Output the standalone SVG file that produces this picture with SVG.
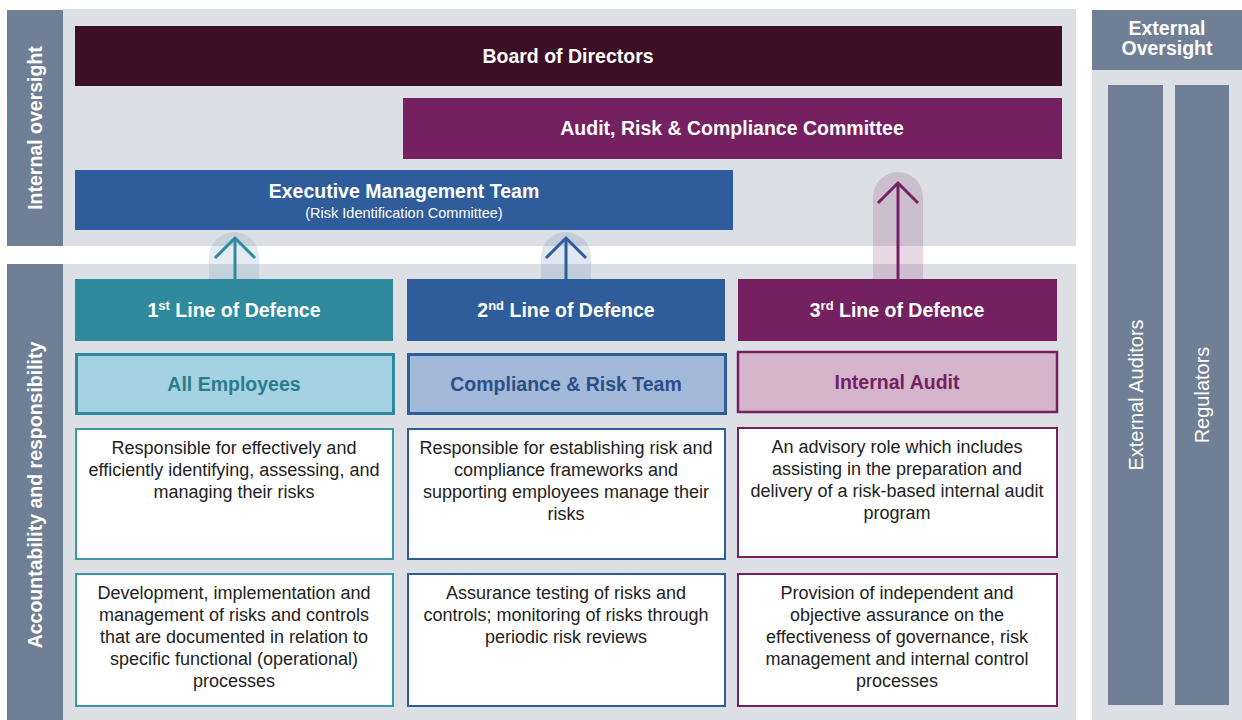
<svg xmlns="http://www.w3.org/2000/svg" width="1242" height="720" viewBox="0 0 1242 720">
  <defs>
    <style>
      .panel { fill: #dce0e5; }
      .slate { fill: #6f7f95; }
      .t { font-family: "Liberation Sans", Arial, sans-serif; }
      .hw { font-weight: bold; font-size: 19.5px; fill: #ffffff; text-anchor: middle; }
      .side { font-weight: bold; font-size: 19.5px; fill: #ffffff; text-anchor: middle; }
      .ext { font-size: 20px; fill: #ffffff; text-anchor: middle; }
      .body { font-size: 18px; fill: #222222; text-anchor: middle; }
      .sub { font-size: 14.5px; fill: #ffffff; text-anchor: middle; }
      .role { font-weight: bold; font-size: 19.5px; text-anchor: middle; }
      .sup { font-size: 13px; }
      .arrow { fill: none; stroke-width: 3; stroke-linecap: butt; stroke-linejoin: miter; }
    </style>
  </defs>

  <rect width="1242" height="720" fill="#ffffff"/>

  <!-- background panels -->
  <g id="panels">
    <rect class="panel" x="63" y="9" width="1013" height="237"/>
    <rect class="panel" x="63" y="264" width="1013" height="456"/>
    <rect class="panel" x="1092" y="10" width="150" height="710"/>
  </g>

  <!-- side labels -->
  <g id="internal-oversight">
    <rect class="slate" x="7" y="10" width="56" height="236"/>
    <text class="t side" transform="translate(42,128) rotate(-90)">Internal oversight</text>
  </g>
  <g id="accountability">
    <rect class="slate" x="7" y="264" width="56" height="456"/>
    <text class="t side" transform="translate(42,495) rotate(-90)">Accountability and responsibility</text>
  </g>

  <!-- governance bodies -->
  <g id="board">
    <rect x="75" y="26" width="987" height="60" fill="#3d0f27"/>
    <text class="t hw" x="568" y="63">Board of Directors</text>
  </g>
  <g id="arc">
    <rect x="403" y="98" width="659" height="61" fill="#742061"/>
    <text class="t hw" x="732" y="135">Audit, Risk &amp; Compliance Committee</text>
  </g>
  <g id="emt">
    <rect x="75" y="170" width="658" height="60" fill="#2f5d9b"/>
    <text class="t hw" x="404" y="198">Executive Management Team</text>
    <text class="t sub" x="404" y="218">(Risk Identification Committee)</text>
  </g>

  <!-- reporting arrows -->
  <g id="connectors">
    <rect x="209" y="232" width="50" height="72" rx="25" ry="25" fill="#2f6e9b" fill-opacity="0.13"/>
    <line class="arrow" x1="235" y1="279" x2="235" y2="238" stroke="#2f8a9e"/>
    <polyline class="arrow" points="215,258 235,238 255,258" stroke="#2f8a9e"/>

    <rect x="541" y="232" width="50" height="72" rx="25" ry="25" fill="#2f5d9b" fill-opacity="0.15"/>
    <line class="arrow" x1="566" y1="279" x2="566" y2="238" stroke="#2f5d9b"/>
    <polyline class="arrow" points="546,258 566,238 586,258" stroke="#2f5d9b"/>

    <rect x="873" y="172" width="50" height="132" rx="25" ry="25" fill="#742061" fill-opacity="0.17"/>
    <line class="arrow" x1="898" y1="279" x2="898" y2="183" stroke="#742061"/>
    <polyline class="arrow" points="878,203 898,183 918,203" stroke="#742061"/>
  </g>

  <!-- first line of defence -->
  <g id="line1">
    <rect x="75" y="279" width="318" height="62" fill="#2f8a9e"/>
    <text class="t hw" x="234" y="317">1<tspan class="sup" dy="-7">st</tspan><tspan dy="7"> Line of Defence</tspan></text>
  </g>
  <g id="employees">
    <rect x="76.5" y="354.5" width="317" height="59" fill="#a5d2e3" stroke="#2f8a9e" stroke-width="3"/>
    <text class="t role" x="234" y="391" fill="#2b7b8c">All Employees</text>
  </g>
  <g id="employees-role">
    <rect x="76" y="429" width="317" height="130" fill="#ffffff" stroke="#3a96a8" stroke-width="2"/>
    <text class="t body" x="234" y="454">Responsible for effectively and</text>
    <text class="t body" x="234" y="476">efficiently identifying, assessing, and</text>
    <text class="t body" x="234" y="498">managing their risks</text>
  </g>
  <g id="employees-activity">
    <rect x="76" y="574" width="317" height="132" fill="#ffffff" stroke="#3a96a8" stroke-width="2"/>
    <text class="t body" x="234" y="599">Development, implementation and</text>
    <text class="t body" x="234" y="621">management of risks and controls</text>
    <text class="t body" x="234" y="643">that are documented in relation to</text>
    <text class="t body" x="234" y="665">specific functional (operational)</text>
    <text class="t body" x="234" y="687">processes</text>
  </g>

  <!-- second line of defence -->
  <g id="line2">
    <rect x="407" y="279" width="318" height="62" fill="#2f5d9b"/>
    <text class="t hw" x="566" y="317">2<tspan class="sup" dy="-7">nd</tspan><tspan dy="7"> Line of Defence</tspan></text>
  </g>
  <g id="compliance">
    <rect x="408.5" y="354.5" width="317" height="59" fill="#a3b9da" stroke="#2f5d9b" stroke-width="3"/>
    <text class="t role" x="566" y="391" fill="#2b4e86">Compliance &amp; Risk Team</text>
  </g>
  <g id="compliance-role">
    <rect x="408" y="429" width="317" height="130" fill="#ffffff" stroke="#2f5d9b" stroke-width="2"/>
    <text class="t body" x="566" y="454">Responsible for establishing risk and</text>
    <text class="t body" x="566" y="476">compliance frameworks and</text>
    <text class="t body" x="566" y="498">supporting employees manage their</text>
    <text class="t body" x="566" y="520">risks</text>
  </g>
  <g id="compliance-activity">
    <rect x="408" y="574" width="317" height="132" fill="#ffffff" stroke="#2f5d9b" stroke-width="2"/>
    <text class="t body" x="566" y="599">Assurance testing of risks and</text>
    <text class="t body" x="566" y="621">controls; monitoring of risks through</text>
    <text class="t body" x="566" y="643">periodic risk reviews</text>
  </g>

  <!-- third line of defence -->
  <g id="line3">
    <rect x="738" y="279" width="319" height="62" fill="#742061"/>
    <text class="t hw" x="897" y="317">3<tspan class="sup" dy="-7">rd</tspan><tspan dy="7"> Line of Defence</tspan></text>
  </g>
  <g id="internal-audit">
    <rect x="738" y="352" width="319" height="60" fill="#d4b5cb" stroke="#742061" stroke-width="2.5"/>
    <text class="t role" x="897" y="389" fill="#742061">Internal Audit</text>
  </g>
  <g id="audit-role">
    <rect x="738" y="428" width="319" height="129" fill="#ffffff" stroke="#742061" stroke-width="2"/>
    <text class="t body" x="897" y="453">An advisory role which includes</text>
    <text class="t body" x="897" y="475">assisting in the preparation and</text>
    <text class="t body" x="897" y="497">delivery of a risk-based internal audit</text>
    <text class="t body" x="897" y="519">program</text>
  </g>
  <g id="audit-activity">
    <rect x="738" y="574" width="319" height="132" fill="#ffffff" stroke="#742061" stroke-width="2"/>
    <text class="t body" x="897" y="599">Provision of independent and</text>
    <text class="t body" x="897" y="621">objective assurance on the</text>
    <text class="t body" x="897" y="643">effectiveness of governance, risk</text>
    <text class="t body" x="897" y="665">management and internal control</text>
    <text class="t body" x="897" y="687">processes</text>
  </g>

  <!-- external oversight -->
  <g id="external-oversight">
    <rect class="slate" x="1092" y="10" width="150" height="60"/>
    <text class="t hw" x="1167" y="35">External</text>
    <text class="t hw" x="1167" y="55">Oversight</text>
  </g>
  <g id="external-auditors">
    <rect class="slate" x="1108" y="85" width="55" height="620"/>
    <text class="t ext" transform="translate(1143,395) rotate(-90)">External Auditors</text>
  </g>
  <g id="regulators">
    <rect class="slate" x="1175" y="85" width="54" height="620"/>
    <text class="t ext" transform="translate(1209,395) rotate(-90)">Regulators</text>
  </g>
</svg>
